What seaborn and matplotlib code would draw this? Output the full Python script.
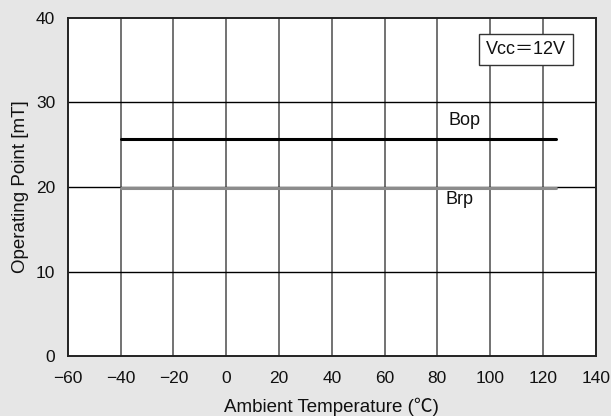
import pandas as pd
import seaborn as sns
import matplotlib.pyplot as plt

# data
temps = [-40, 125]
bop = [25.7, 25.7]
brp = [19.9, 19.9]
x_ticks = [-60, -40, -20, 0, 20, 40, 60, 80, 100, 120, 140]
y_ticks = [0, 10, 20, 30, 40]

sns.set_theme(style="white")
plt.rcParams['font.family'] = ['Liberation Sans', 'Noto Sans CJK JP', 'DejaVu Sans']

bg = "#e6e6e6"
fig = plt.figure(figsize=(6.11, 4.16), dpi=100, facecolor=bg)
ax = fig.add_axes([0.111, 0.144, 0.864, 0.813])
ax.set_facecolor("white")

df = pd.DataFrame({"Temp": temps + temps,
                   "B": bop + brp,
                   "kind": ["Bop"] * len(temps) + ["Brp"] * len(temps)})

sns.lineplot(data=df[df.kind == "Bop"], x="Temp", y="B", color="black",
             linewidth=2.2, ax=ax, zorder=3)
sns.lineplot(data=df[df.kind == "Brp"], x="Temp", y="B", color="#8c8c8c",
             linewidth=2.2, ax=ax, zorder=3)

ax.set_xlim(-60, 140)
ax.set_ylim(0, 40)
ax.set_xticks(x_ticks)
ax.set_yticks(y_ticks)
ax.set_xticklabels(["\u2212" + str(-t) if t < 0 else str(t) for t in x_ticks])

for t in x_ticks[1:-1]:
    ax.axvline(t, color="#5a5a5a", linewidth=1.2, zorder=1)
for t in y_ticks[1:-1]:
    ax.axhline(t, color="black", linewidth=1.0, zorder=1)

for s in ax.spines.values():
    s.set_visible(True)
    s.set_color("#222222")
    s.set_linewidth(1.4)

ax.tick_params(axis="both", length=0, labelsize=12.5, colors="#111111")
ax.tick_params(axis="x", pad=11)
ax.tick_params(axis="y", pad=9)

ax.set_xlabel("Ambient Temperature (℃)", fontsize=13.5, color="#111111", labelpad=8)
ax.set_ylabel("Operating Point [mT]", fontsize=13.5, color="#111111", labelpad=5)

ax.text(90.4, 27.9, "Bop", fontsize=13, ha="center", va="center", color="#111111")
ax.text(88.5, 18.5, "Brp", fontsize=13, ha="center", va="center", color="#111111")
ax.text(113.5, 36.3, "Vcc＝12V", fontsize=13, ha="center", va="center", color="#111111",
        bbox=dict(boxstyle="square,pad=0.38", facecolor="white", edgecolor="#333333",
                  linewidth=1.0), zorder=5)

fig.savefig("out.png", dpi=100, facecolor=bg)
